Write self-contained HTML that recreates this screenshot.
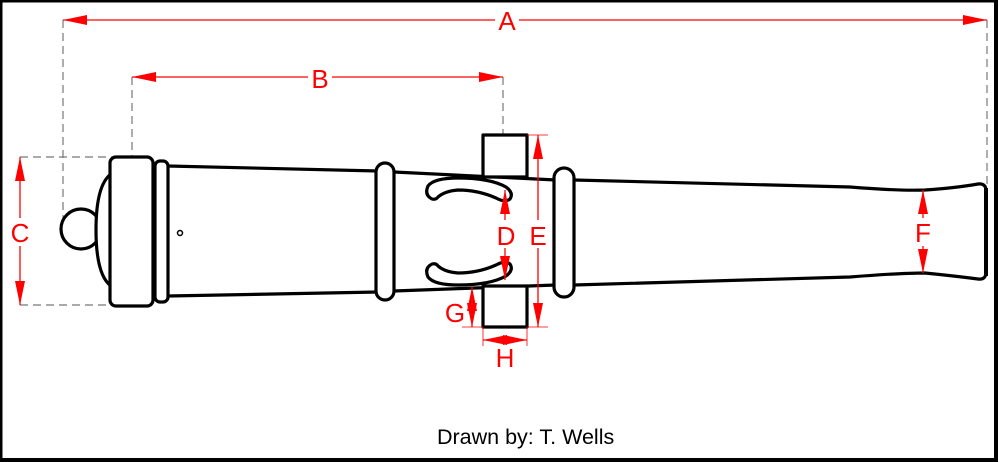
<!DOCTYPE html>
<html><head><style>html,body{margin:0;padding:0;background:#fff}svg{display:block}.wrap{position:relative;width:1000px;height:462px}.mz{position:absolute;left:984px;top:188px;width:4px;height:88px;background:#000}</style></head>
<body>
<div class="wrap">
<svg width="1000" height="462" viewBox="0 0 1000 462" xmlns="http://www.w3.org/2000/svg">
<defs>
<marker id="ar" viewBox="0 0 24 10" refX="24" refY="5" markerWidth="24" markerHeight="10" markerUnits="userSpaceOnUse" orient="auto-start-reverse"><path d="M0,0 L24,5 L0,10 Z" fill="#f00"/></marker>
</defs>
<rect x="0" y="0" width="1000" height="462" fill="#fff"/>
<path d="M1,1 H995.5 V459.5 H1 Z" fill="none" stroke="#000" stroke-width="3"/>
<rect x="994" y="0" width="4" height="462" fill="#000"/>
<rect x="0" y="458" width="998" height="4" fill="#000"/>

<g stroke="#777" stroke-width="1.2" stroke-dasharray="8,5" fill="none">
<line x1="63" y1="20" x2="63" y2="228"/>
<line x1="987" y1="20" x2="987" y2="185"/>
<line x1="132" y1="77" x2="132" y2="157"/>
<line x1="503" y1="77" x2="503" y2="135"/>
<line x1="20" y1="157" x2="112" y2="157"/>
<line x1="20" y1="305" x2="112" y2="305"/>
</g>

<g stroke="#000" stroke-width="3.2" fill="#fff" stroke-linejoin="round">
<circle cx="81" cy="229" r="20"/>
<path d="M111,174 Q96,185 96,230 Q96,275 111,286" fill="#fff"/>
<rect x="110" y="157" width="43" height="149" rx="6"/>
<rect x="155" y="161" width="13" height="141" rx="5"/>
<path d="M168,166 L378,171 M168,296 L378,292" fill="none"/>
<path d="M394,172 L556,180 M394,291 L556,285" fill="none"/>
<rect x="376" y="163" width="18" height="137" rx="9"/>
<path d="M574,180 L850,187 Q900,191 925,190 Q955,188 978,184 Q986,183 986,191 L986,272 Q986,280 978,279 Q955,276 925,273 Q900,273 850,277 L574,285" fill="#fff"/>
<path d="M986,188 V276" fill="none"/>
<rect x="554" y="168" width="20" height="129" rx="10"/>
<rect x="483" y="135" width="44" height="42" fill="#fff"/>
<rect x="483" y="286" width="44" height="41" fill="#fff"/>
<path d="M432,199 Q424,195 428,186 Q434,178 458,178 Q490,178 506,187 Q514,193 510,199 Q505,203 496,198 Q478,190 458,190 Q445,191 438,197 Q436,200 432,199 Z"/>
<path d="M432,264 Q424,268 428,277 Q434,285 458,285 Q490,285 506,276 Q514,270 510,264 Q505,260 496,265 Q478,273 458,273 Q445,272 438,266 Q436,263 432,264 Z"/>
</g>
<circle cx="180" cy="233" r="2.5" fill="none" stroke="#000" stroke-width="1.5"/>

<g stroke="#f00" stroke-width="1.3" fill="none">
<line x1="63" y1="20" x2="987" y2="20" marker-start="url(#ar)" marker-end="url(#ar)"/>
<line x1="132" y1="77" x2="503" y2="77" marker-start="url(#ar)" marker-end="url(#ar)"/>
<line x1="20" y1="157" x2="20" y2="305" marker-start="url(#ar)" marker-end="url(#ar)"/>
<line x1="505" y1="190" x2="505" y2="280" marker-start="url(#ar)" marker-end="url(#ar)"/>
<line x1="538" y1="135" x2="538" y2="327" marker-start="url(#ar)" marker-end="url(#ar)"/>
<line x1="923" y1="190" x2="923" y2="273" marker-start="url(#ar)" marker-end="url(#ar)"/>
<line x1="472" y1="287" x2="472" y2="327" marker-start="url(#ar)" marker-end="url(#ar)"/>
<line x1="483" y1="340" x2="527" y2="340" marker-start="url(#ar)" marker-end="url(#ar)"/>
<g stroke-width="0.8">
<line x1="527" y1="135" x2="548" y2="135"/>
<line x1="527" y1="327" x2="548" y2="327"/>
<line x1="462" y1="327" x2="483" y2="327"/>
<line x1="483" y1="327" x2="483" y2="346"/>
<line x1="527" y1="327" x2="527" y2="346"/>
</g>
</g>

<g font-family="Liberation Sans, sans-serif" font-size="26" fill="#f00" text-anchor="middle">
<rect x="495" y="8" width="24" height="24" fill="#fff"/>
<text x="507" y="30">A</text>
<rect x="308" y="65" width="24" height="24" fill="#fff"/>
<text x="320" y="88">B</text>
<rect x="8" y="218" width="24" height="28" fill="#fff"/>
<text x="20" y="242">C</text>
<rect x="494" y="220" width="22" height="28" fill="#fff"/>
<text x="506" y="245">D</text>
<rect x="527" y="220" width="22" height="28" fill="#fff"/>
<text x="538" y="245">E</text>
<rect x="912" y="218" width="22" height="28" fill="#fff"/>
<text x="923" y="242">F</text>
<text x="455" y="322">G</text>
<text x="505" y="367">H</text>
</g>
<text x="437" y="444" font-family="Liberation Sans, sans-serif" font-size="21.5" fill="#000">Drawn by: T. Wells</text>
</svg>
<div class="mz"></div>
</div>
</body></html>
